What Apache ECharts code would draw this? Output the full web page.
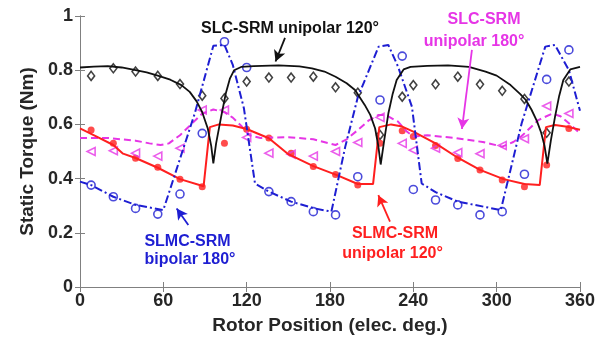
<!DOCTYPE html>
<html>
<head>
<meta charset="utf-8">
<script src="https://cdn.jsdelivr.net/npm/echarts@6/dist/echarts.min.js"></script>
<style>
html, body { margin: 0; padding: 0; background: #fff; }
#chart { width: 605px; height: 341px; }
</style>
</head>
<body>
<div id="chart"></div>
<script>
// rotor positions of the measured points (elec. deg.)
const markX = [8, 24, 40, 56, 72, 88, 104, 120, 136, 152, 168, 184, 200, 216, 232, 240, 256, 272, 288, 304, 320, 336, 352];

// measured torque (Nm)
const slcUni120Meas = [0.779, 0.807, 0.795, 0.779, 0.749, 0.706, 0.696, 0.758, 0.773, 0.773, 0.776, 0.737, 0.717, 0.561, 0.702, 0.745, 0.748, 0.776, 0.748, 0.724, 0.694, 0.569, 0.758];
const slmcUni120Meas = [0.579, 0.53, 0.475, 0.442, 0.398, 0.37, 0.53, 0.582, 0.55, 0.494, 0.445, 0.415, 0.376, 0.53, 0.577, 0.555, 0.522, 0.474, 0.432, 0.395, 0.37, 0.45, 0.585];
const slcUni180Meas = [0.50, 0.503, 0.494, 0.483, 0.512, 0.653, 0.653, 0.552, 0.494, 0.49, 0.483, 0.50, 0.533, 0.626, 0.53, 0.505, 0.512, 0.496, 0.492, 0.522, 0.547, 0.668, 0.64];
const slmcBip180Meas = [0.376, 0.333, 0.29, 0.269, 0.343, 0.567, 0.905, 0.81, 0.352, 0.315, 0.278, 0.266, 0.407, 0.69, 0.852, 0.36, 0.321, 0.303, 0.266, 0.278, 0.416, 0.766, 0.875];

// simulated curves: positions and torque
const slcUni120LineX = [0, 10, 20, 30, 40, 48, 56, 65, 73, 79, 84, 88, 92, 94.5, 96, 98, 101.5, 105, 108, 111, 116,
  125, 143, 158, 167, 176, 184, 192, 198, 205, 209, 212.5, 214.8, 216.5, 219, 222, 225, 228, 233, 238,
  250, 265, 280, 292, 300, 310, 317, 321, 325, 329, 332, 334.5, 336.5, 339, 342, 345, 348, 353, 360];
const slcUni120LineY = [0.81, 0.813, 0.815, 0.81, 0.80, 0.792, 0.78, 0.765, 0.745, 0.72, 0.685, 0.645, 0.585, 0.52, 0.456, 0.53, 0.625, 0.715, 0.77, 0.80, 0.812,
  0.815, 0.818, 0.814, 0.807, 0.795, 0.776, 0.752, 0.727, 0.672, 0.635, 0.585, 0.52, 0.452, 0.54, 0.64, 0.71, 0.764, 0.803, 0.812,
  0.816, 0.818, 0.812, 0.795, 0.78, 0.745, 0.712, 0.69, 0.655, 0.612, 0.57, 0.52, 0.455, 0.54, 0.628, 0.705, 0.764, 0.803, 0.812];

const slmcUni120LineX = [0, 12, 24, 31, 40, 56, 72, 89, 93.5, 100, 110, 120,
  136, 150, 168, 185, 200, 211, 215.5, 224, 232, 240,
  256, 272, 288, 305, 320, 331, 335.5, 342, 352, 360];
const slmcUni120LineY = [0.585, 0.555, 0.524, 0.492, 0.476, 0.44, 0.398, 0.372, 0.59, 0.60, 0.596, 0.583,
  0.549, 0.49, 0.446, 0.413, 0.38, 0.38, 0.59, 0.60, 0.592, 0.573,
  0.53, 0.477, 0.432, 0.398, 0.38, 0.376, 0.59, 0.598, 0.59, 0.58];

const slcUni180LineX = [0, 20, 40, 50, 58, 64, 72, 80, 88, 96, 104, 110, 116, 122,
  130, 150, 168, 184, 192, 200, 208, 215, 220, 229, 235, 240,
  250, 270, 290, 304, 312, 318, 330, 340, 346, 352, 360];
const slcUni180LineY = [0.55, 0.55, 0.54, 0.53, 0.524, 0.53, 0.56, 0.60, 0.64, 0.655, 0.645, 0.625, 0.595, 0.56,
  0.55, 0.553, 0.545, 0.524, 0.545, 0.579, 0.615, 0.635, 0.635, 0.61, 0.575, 0.555,
  0.56, 0.55, 0.535, 0.518, 0.535, 0.557, 0.616, 0.64, 0.63, 0.604, 0.567];

const slmcBip180LineX = [0, 8, 24, 40, 60, 82.6, 96, 104, 110, 118, 126, 136, 152, 169, 181, 191, 200, 215, 222, 229, 239, 246, 256, 272, 303, 318, 335, 342, 352, 360];
const slmcBip180LineY = [0.389, 0.376, 0.333, 0.303, 0.284, 0.64, 0.89, 0.893, 0.82, 0.66, 0.382, 0.352, 0.315, 0.29, 0.278, 0.518, 0.70, 0.887, 0.893, 0.813, 0.665, 0.382, 0.35, 0.315, 0.284, 0.604, 0.887, 0.893, 0.80, 0.65];

const xTicks = [0, 60, 120, 180, 240, 300, 360];
const yTicks = [0, 0.2, 0.4, 0.6, 0.8, 1];

const BLACK = '#111111';
const RED = '#ff1f1f';
const MAGENTA = '#e635e6';
const BLUE = '#1e1ed2';
const FONT = '"Liberation Sans", Arial, sans-serif';

const zip = (xs, ys) => xs.map((x, i) => [x, ys[i]]);

const arrow = (color, from, to) => ({
  silent: true,
  symbol: ['none', 'arrow'],
  symbolSize: [9, 11],
  label: { show: false },
  lineStyle: { color: color, width: 1.8, type: 'solid' },
  data: [[{ coord: from }, { coord: to }]]
});

const myChart = echarts.init(document.getElementById('chart'));
const option = {
  animation: false,
  backgroundColor: '#fff',
  grid: { left: 80, right: 25, top: 16, bottom: 54, show: false },
  xAxis: [
    {
      type: 'value', min: xTicks[0], max: xTicks[xTicks.length - 1], interval: 60,
      name: 'Rotor Position (elec. deg.)', nameLocation: 'middle', nameGap: 29,
      nameTextStyle: { fontFamily: FONT, fontWeight: 'bold', fontSize: 19, color: '#262626' },
      axisLine: { lineStyle: { color: '#808080', width: 1 } },
      axisTick: { inside: true, length: 5, lineStyle: { color: '#808080' } },
      axisLabel: { fontFamily: FONT, fontWeight: 'bold', fontSize: 18, color: '#262626', margin: 5 },
      splitLine: { show: false }
    },
    {
      type: 'value', position: 'top', min: 0, max: 360, interval: 60,
      axisLine: { lineStyle: { color: '#808080', width: 1 } },
      axisTick: { inside: true, length: 5, lineStyle: { color: '#808080' } },
      axisLabel: { show: false },
      splitLine: { show: false }
    }
  ],
  yAxis: [
    {
      type: 'value', min: yTicks[0], max: yTicks[yTicks.length - 1], interval: 0.2,
      name: 'Static Torque (Nm)', nameLocation: 'middle', nameGap: 35,
      nameTextStyle: { fontFamily: FONT, fontWeight: 'bold', fontSize: 19, color: '#262626' },
      axisLine: { show: true, lineStyle: { color: '#808080', width: 1 } },
      axisTick: { show: true, inside: true, length: 5, lineStyle: { color: '#808080' } },
      axisLabel: { fontFamily: FONT, fontWeight: 'bold', fontSize: 18, color: '#262626', margin: 7 },
      splitLine: { show: false }
    },
    {
      type: 'value', position: 'right', min: 0, max: 1, interval: 0.2,
      axisLine: { show: true, lineStyle: { color: '#808080', width: 1 } },
      axisTick: { show: true, inside: true, length: 5, lineStyle: { color: '#808080' } },
      axisLabel: { show: false },
      splitLine: { show: false }
    }
  ],
  series: [
    {
      name: 'SLC-SRM unipolar 180° sim', type: 'line', showSymbol: false,
      data: zip(slcUni180LineX, slcUni180LineY),
      lineStyle: { color: MAGENTA, width: 2, type: [7, 4] },
      markLine: arrow(MAGENTA, [282.2, 0.875], [275.0, 0.583])
    },
    {
      name: 'SLMC-SRM unipolar 120° sim', type: 'line', showSymbol: false,
      data: zip(slmcUni120LineX, slmcUni120LineY),
      lineStyle: { color: RED, width: 2 },
      markLine: arrow(RED, [223.2, 0.241], [214.8, 0.339])
    },
    {
      name: 'SLMC-SRM bipolar 180° sim', type: 'line', showSymbol: false,
      data: zip(slmcBip180LineX, slmcBip180LineY),
      lineStyle: { color: BLUE, width: 2, type: [8, 3, 2, 3] },
      markLine: arrow(BLUE, [78.0, 0.229], [69.6, 0.290])
    },
    {
      name: 'SLC-SRM unipolar 120° sim', type: 'line', showSymbol: false,
      data: zip(slcUni120LineX, slcUni120LineY),
      lineStyle: { color: BLACK, width: 1.8 },
      markLine: arrow(BLACK, [147.6, 0.919], [140.8, 0.832])
    },
    {
      name: 'SLC-SRM unipolar 120° meas', type: 'scatter',
      data: zip(markX, slcUni120Meas),
      symbol: 'diamond', symbolSize: [7, 9],
      itemStyle: { color: '#fff', borderColor: BLACK, borderWidth: 1.6 }
    },
    {
      name: 'SLMC-SRM unipolar 120° meas', type: 'scatter',
      data: zip(markX, slmcUni120Meas),
      symbol: 'circle', symbolSize: 7,
      itemStyle: { color: RED, borderColor: RED, borderWidth: 0 }
    },
    {
      name: 'SLC-SRM unipolar 180° meas', type: 'scatter',
      data: zip(markX, slcUni180Meas),
      symbol: 'triangle', symbolSize: 8, symbolRotate: 90,
      itemStyle: { color: 'rgba(255,255,255,0)', borderColor: MAGENTA, borderWidth: 1.6 }
    },
    {
      name: 'SLMC-SRM bipolar 180° meas', type: 'scatter',
      data: zip(markX, slmcBip180Meas),
      symbol: 'circle', symbolSize: 8,
      itemStyle: { color: 'rgba(255,255,255,0)', borderColor: BLUE, borderWidth: 1.6 }
    }
  ]
};
myChart.setOption(option);

// annotation texts, positioned in data coordinates
const notes = [
  { text: 'SLC-SRM unipolar 120°', at: [151.2, 0.954], color: BLACK },
  { text: 'SLC-SRM', at: [290.9, 0.985], color: MAGENTA },
  { text: 'unipolar 180°', at: [283.7, 0.904], color: MAGENTA },
  { text: 'SLMC-SRM', at: [77.4, 0.167], color: BLUE },
  { text: 'bipolar 180°', at: [79.2, 0.100], color: BLUE },
  { text: 'SLMC-SRM', at: [226.8, 0.198], color: RED },
  { text: 'unipolar 120°', at: [225.0, 0.122], color: RED }
];
myChart.setOption({
  graphic: notes.map(n => {
    const p = myChart.convertToPixel({ gridIndex: 0 }, n.at);
    return {
      type: 'text', x: p[0], y: p[1], z: 100,
      style: {
        text: n.text, fill: n.color, align: 'center', verticalAlign: 'middle',
        font: 'bold 16px ' + FONT
      }
    };
  })
});
</script>
</body>
</html>
